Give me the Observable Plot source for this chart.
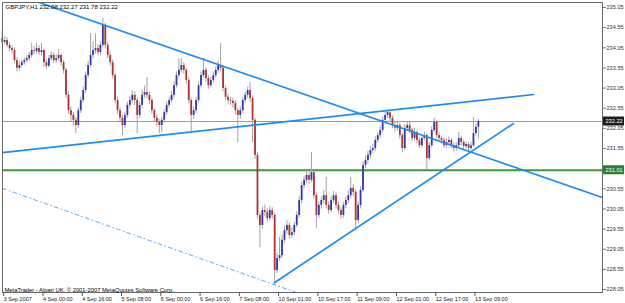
<!DOCTYPE html>
<html><head><meta charset="utf-8">
<script src="https://cdn.jsdelivr.net/npm/d3@7"></script>
<script src="https://cdn.jsdelivr.net/npm/@observablehq/plot@0.6"></script>
<style>html,body{margin:0;padding:0;background:#fff;} svg{display:block}</style>
</head><body><div id="chart"></div>
<script>
const titleText = "GBPJPY,H1 232.08 232.27 231.78 232.22";
const copyrightText = "MetaTrader - Alpari UK, \u00a9 2001-2007 MetaQuotes Software Corp.";

const opens = [234.28,234.18,234.23,234.11,234.03,233.98,233.73,233.54,233.61,233.68,233.73,233.78,233.86,233.98,233.96,234.03,233.93,233.98,233.68,233.59,
233.78,233.86,233.73,233.78,233.86,233.68,233.49,232.87,232.49,232.37,232.25,232.12,232.49,232.74,232.99,233.36,233.61,233.86,233.98,234.03,
233.93,234.11,234.60,234.11,233.86,233.68,233.36,232.74,232.49,232.30,232.12,232.37,232.62,232.74,232.87,232.74,232.37,232.62,232.87,232.94,
232.87,232.74,232.49,232.30,232.20,232.12,232.25,232.44,232.62,232.74,232.87,233.11,233.36,233.49,233.61,233.49,233.24,232.74,232.37,232.49,
232.74,233.11,233.36,233.49,233.29,233.11,233.24,233.36,233.49,233.61,233.54,233.04,232.82,232.74,232.72,232.67,232.49,232.37,232.49,232.74,
232.87,232.99,232.79,232.25,231.38,229.89,229.64,230.01,229.96,229.81,230.01,229.89,228.52,228.82,228.89,229.27,229.51,229.64,229.39,229.46,
229.64,229.89,230.26,230.63,230.76,230.88,230.76,230.95,230.38,229.89,230.14,230.26,230.38,230.14,230.01,230.26,230.38,230.14,230.01,229.89,
230.14,230.26,230.38,230.56,230.46,229.76,230.14,230.51,231.13,231.25,231.38,231.50,231.55,231.75,231.87,232.00,232.25,232.37,232.44,232.30,
232.12,232.05,232.12,231.87,231.55,232.05,232.12,232.00,231.80,231.95,231.75,231.62,231.80,231.87,231.30,231.62,232.00,232.20,231.87,231.80,
231.75,231.62,231.70,231.75,231.62,231.55,231.62,231.80,231.70,231.60,231.65,231.55,231.62,231.92,232.08];
const highs = [234.48,234.33,234.30,234.18,234.10,234.05,233.80,233.70,233.76,233.80,233.86,233.93,234.16,234.08,234.16,234.10,234.16,234.02,233.75,233.86,
233.95,233.92,233.88,234.00,233.90,233.74,233.55,232.95,232.58,232.45,232.32,232.56,232.82,233.08,233.45,233.70,234.40,234.20,234.40,234.12,
234.20,234.78,234.66,234.18,233.95,233.75,233.42,232.82,232.56,232.38,232.45,232.70,232.85,232.98,232.95,232.80,232.70,233.00,233.10,233.31,
232.95,232.80,232.55,232.38,232.28,232.32,232.52,232.70,232.82,232.96,233.20,233.45,233.78,233.78,233.68,233.55,233.30,232.80,232.58,232.82,
233.20,233.45,233.78,233.55,233.36,233.32,233.45,233.58,233.72,234.16,233.60,233.10,232.90,232.82,232.80,232.74,232.55,232.58,232.82,232.95,
233.08,233.19,232.85,232.30,231.45,229.95,230.10,230.15,230.05,230.12,230.08,229.95,228.95,229.34,229.40,229.62,229.76,229.70,229.58,229.72,
229.98,230.35,230.72,230.86,231.00,230.95,231.45,231.02,230.45,230.22,230.35,230.50,230.83,230.22,230.35,230.48,230.45,230.22,230.08,230.22,
230.35,230.50,230.83,230.65,230.52,230.22,230.60,231.22,231.36,231.48,231.60,231.66,231.84,231.96,232.10,232.34,232.46,232.49,232.49,232.36,
232.20,232.22,232.18,231.92,232.14,232.22,232.20,232.06,232.04,232.00,231.82,231.88,231.96,231.92,231.70,232.08,232.30,232.24,231.94,231.86,
231.80,231.78,231.84,231.80,231.68,231.70,231.95,231.86,231.76,231.72,231.70,231.70,232.32,232.16,232.27];
const lows = [234.10,234.12,234.05,233.95,233.90,233.66,233.45,233.48,233.55,233.62,233.68,233.72,233.80,233.88,233.90,233.86,233.85,233.56,233.50,233.55,
233.72,233.66,233.66,233.72,233.60,233.40,232.80,232.40,232.22,232.10,231.92,232.05,232.42,232.68,232.92,233.30,233.55,233.78,233.90,233.85,
233.86,234.05,234.02,233.78,233.60,233.28,232.66,232.40,232.20,231.87,232.05,232.30,232.55,232.66,232.62,231.92,232.30,232.55,232.80,232.78,
232.65,232.40,232.22,232.08,231.92,231.95,232.18,232.38,232.55,232.68,232.80,233.05,233.30,233.42,233.40,233.15,232.66,231.95,232.28,232.42,
232.68,233.05,233.30,233.20,233.02,233.05,233.18,233.30,233.42,233.45,232.96,232.74,232.65,232.62,232.55,232.38,231.70,232.28,232.42,232.68,
232.80,232.70,231.70,231.28,229.80,229.09,229.55,229.85,229.72,229.75,229.80,228.22,228.45,228.75,228.82,229.20,229.42,229.30,229.32,229.38,
229.58,229.82,230.18,230.55,230.68,230.66,230.70,230.30,229.56,229.82,230.05,230.18,230.05,229.92,229.95,230.18,230.05,229.92,229.80,229.82,
230.06,230.18,230.30,230.36,229.51,229.68,230.05,230.45,231.05,231.16,231.30,231.42,231.48,231.68,231.80,231.94,232.18,232.30,232.22,232.04,
231.96,231.98,231.78,231.45,231.50,231.98,231.92,231.72,231.74,231.66,231.55,231.56,231.74,231.00,231.24,231.56,231.94,231.80,231.72,231.66,
231.55,231.56,231.64,231.55,231.46,231.48,231.56,231.62,231.52,231.54,231.48,231.50,231.58,231.86,231.78];
const closes = [234.18,234.23,234.11,234.03,233.98,233.73,233.54,233.61,233.68,233.73,233.78,233.86,233.98,233.96,234.03,233.93,233.98,233.68,233.59,233.78,
233.86,233.73,233.78,233.86,233.68,233.49,232.87,232.49,232.37,232.25,232.12,232.49,232.74,232.99,233.36,233.61,233.86,233.98,234.03,233.93,
234.11,234.60,234.11,233.86,233.68,233.36,232.74,232.49,232.30,232.12,232.37,232.62,232.74,232.87,232.74,232.37,232.62,232.87,232.94,232.87,
232.74,232.49,232.30,232.20,232.12,232.25,232.44,232.62,232.74,232.87,233.11,233.36,233.49,233.61,233.49,233.24,232.74,232.37,232.49,232.74,
233.11,233.36,233.49,233.29,233.11,233.24,233.36,233.49,233.61,233.54,233.04,232.82,232.74,232.72,232.67,232.49,232.37,232.49,232.74,232.87,
232.99,232.79,232.25,231.38,229.89,229.64,230.01,229.96,229.81,230.01,229.89,228.52,228.82,228.89,229.27,229.51,229.64,229.39,229.46,229.64,
229.89,230.26,230.63,230.76,230.88,230.76,230.95,230.38,229.89,230.14,230.26,230.38,230.14,230.01,230.26,230.38,230.14,230.01,229.89,230.14,
230.26,230.38,230.56,230.46,229.76,230.14,230.51,231.13,231.25,231.38,231.50,231.55,231.75,231.87,232.00,232.25,232.37,232.44,232.30,232.12,
232.05,232.12,231.87,231.55,232.05,232.12,232.00,231.80,231.95,231.75,231.62,231.80,231.87,231.30,231.62,232.00,232.20,231.87,231.80,231.75,
231.62,231.70,231.75,231.62,231.55,231.62,231.80,231.70,231.60,231.65,231.55,231.62,231.92,232.08,232.22];

const xTickIdx = [0,16,32,48,64,80,96,112,128,144,160,176,192];
const xTickLabels = ["3 Sep 2007","4 Sep 00:00","4 Sep 16:00","5 Sep 08:00","6 Sep 00:00","6 Sep 16:00","7 Sep 08:00","10 Sep 01:00","10 Sep 17:00","11 Sep 09:00","12 Sep 01:00","12 Sep 17:00","13 Sep 09:00"];
// 231.05 is hidden behind the 231.01 level label in the reference
const yTicks = [228.05,228.55,229.05,229.55,230.05,230.55,231.55,232.05,232.55,233.05,233.55,234.05,234.55,235.05];

const downIdx = [10, 244.6], downPrice = [235.28, 230.33];
const upperIdx = [0.12, 216.5], upperPrice = [231.45, 232.89];
const upIdx = [110.9, 208.3], upPrice = [228.22, 232.17];
const chanIdx = [0.12, 121.5], chanPrice = [230.56, 227.94];
const bidLevel = 232.22, greenLevel = 231.01;

const bars = closes.map((c, i) => ({i, o: opens[i], h: highs[i], l: lows[i], c}));
const seg = (xs, ps) => xs.map((x, k) => ({i: x, p: ps[k]}));
const labelOf = new Map(xTickIdx.map((d, k) => [d, xTickLabels[k]]));
const FONT = "'Liberation Sans', Arial, sans-serif";

const plot = Plot.plot({
  width: 625, height: 303,
  marginLeft: 2, marginRight: 23, marginTop: 2, marginBottom: 11,
  x: {domain: [0.12, 244.57], axis: null},
  y: {domain: [227.976, 235.174], axis: null},
  style: {background: "#fff", fontFamily: FONT, overflow: "visible"},
  marks: [
    Plot.ruleY([bidLevel], {stroke: "#8d9db5", strokeWidth: 1}),
    Plot.ruleY([greenLevel], {stroke: "#3a9a3a", strokeWidth: 2}),
    Plot.ruleX(bars, {x: "i", y1: "l", y2: "h", stroke: "#a3a3a3", strokeWidth: 1}),
    Plot.ruleX(bars.filter(d => d.c >= d.o), {x: "i", y1: "o", y2: "c", stroke: "#3535b0", strokeWidth: 1.8}),
    Plot.ruleX(bars.filter(d => d.c < d.o), {x: "i", y1: "o", y2: "c", stroke: "#b03232", strokeWidth: 1.8}),
    Plot.line(seg(chanIdx, chanPrice), {x: "i", y: "p", stroke: "#5eaaf5", strokeWidth: 1, strokeDasharray: "4,3,1,3", clip: true}),
    Plot.line(seg(downIdx, downPrice), {x: "i", y: "p", stroke: "#1e8cf5", strokeWidth: 1.7, clip: true}),
    Plot.line(seg(upperIdx, upperPrice), {x: "i", y: "p", stroke: "#1e8cf5", strokeWidth: 1.7, clip: true}),
    Plot.line(seg(upIdx, upPrice), {x: "i", y: "p", stroke: "#1e8cf5", strokeWidth: 1.7, clip: true}),
    Plot.frame({stroke: "#6a6a6a"}),
    Plot.axisY({anchor: "right", label: null, ticks: yTicks, tickFormat: d => d.toFixed(2), tickSize: 3, tickPadding: 1, fontSize: 5.6, fill: "#333", stroke: "#777"}),
    Plot.axisX({anchor: "bottom", label: null, ticks: xTickIdx, tickFormat: d => labelOf.get(d), tickSize: 4, tickPadding: 1, textAnchor: "start", dx: 1.5, fontSize: 5.5, fill: "#222", stroke: "#555"}),
    Plot.text([titleText], {text: d => d, frameAnchor: "top-left", dx: 3, dy: 2, lineAnchor: "top", textAnchor: "start", fontSize: 6, fill: "#000"}),
    Plot.text([copyrightText], {text: d => d, frameAnchor: "bottom-left", dx: 2, dy: -1, lineAnchor: "bottom", textAnchor: "start", fontSize: 5.8, fill: "#000"})
  ]
});

document.getElementById("chart").appendChild(plot);

const ys = plot.scale("y");
const svg = d3.select(plot);
[[bidLevel, "#1c1c1c", "#ffffff"], [greenLevel, "#2f7f2f", "#ffffff"]].forEach(([v, bg, fg]) => {
  const y = ys.apply(v);
  svg.append("rect").attr("x", 603).attr("y", y - 4.5).attr("width", 21).attr("height", 9).attr("fill", bg);
  svg.append("text").attr("x", 605.5).attr("y", y + 2.1).attr("font-size", 5.6).attr("fill", fg)
    .attr("text-anchor", "start").attr("font-family", FONT).text(v.toFixed(2));
});
</script>
</body></html>
